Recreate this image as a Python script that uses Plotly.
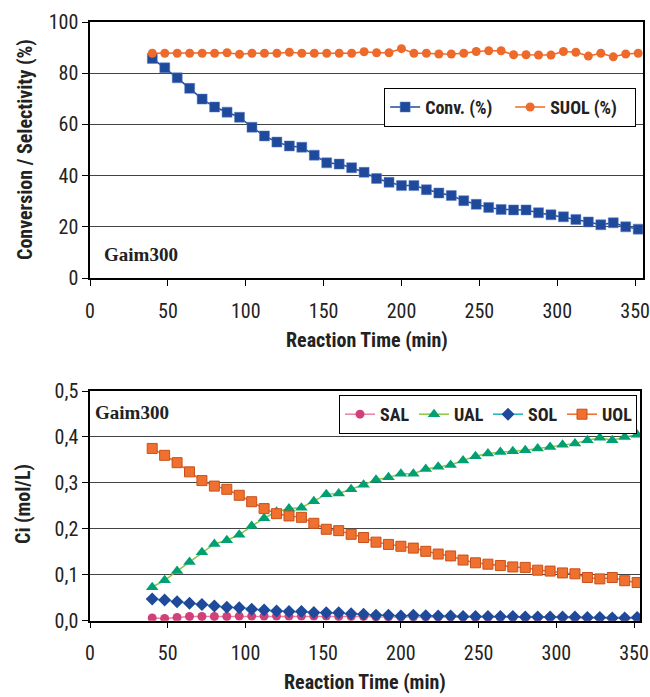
import plotly.graph_objects as go

# ---------------- data ----------------
time_min = [40, 48, 56, 64, 72, 80, 88, 96, 104, 112, 120, 128, 136, 144, 152, 160,
            168, 176, 184, 192, 200, 208, 216, 224, 232, 240, 248, 256, 264, 272,
            280, 288, 296, 304, 312, 320, 328, 336, 344, 352]

conv = [85.8, 82.1, 78.2, 74.1, 69.9, 66.8, 64.8, 62.8, 58.9, 55.5, 53.1, 51.6, 51.1,
        48.0, 45.0, 44.5, 43.1, 41.3, 38.9, 37.4, 36.1, 36.1, 34.5, 33.2, 32.2, 30.2,
        28.8, 27.6, 26.8, 26.6, 26.6, 25.5, 24.7, 23.9, 22.9, 21.9, 20.8, 21.6, 20.0, 19.1]

suol = [87.8, 87.8, 87.8, 87.8, 87.8, 87.8, 88.0, 87.4, 87.8, 87.8, 87.8, 88.2, 87.8,
        87.8, 87.8, 87.8, 87.8, 88.4, 88.0, 88.0, 89.6, 87.8, 87.8, 87.5, 87.5, 87.8,
        88.5, 88.8, 88.8, 87.2, 87.2, 87.1, 87.1, 88.5, 88.2, 86.7, 87.8, 86.4, 87.5, 87.8]

uol = [0.375, 0.360, 0.344, 0.324, 0.305, 0.293, 0.286, 0.273, 0.259, 0.244, 0.233,
       0.228, 0.225, 0.212, 0.199, 0.196, 0.188, 0.181, 0.171, 0.166, 0.162, 0.158,
       0.151, 0.145, 0.141, 0.132, 0.126, 0.123, 0.120, 0.117, 0.116, 0.110, 0.108,
       0.104, 0.102, 0.094, 0.091, 0.094, 0.087, 0.083]

ual = [0.073, 0.088, 0.108, 0.128, 0.149, 0.167, 0.175, 0.187, 0.206, 0.223, 0.237,
       0.244, 0.246, 0.260, 0.275, 0.277, 0.286, 0.296, 0.307, 0.312, 0.320, 0.320,
       0.330, 0.335, 0.339, 0.349, 0.358, 0.364, 0.367, 0.369, 0.371, 0.375, 0.378,
       0.383, 0.386, 0.393, 0.398, 0.393, 0.400, 0.405]

sol = [0.047, 0.045, 0.041, 0.038, 0.035, 0.032, 0.029, 0.028, 0.025, 0.023, 0.021,
       0.020, 0.020, 0.018, 0.017, 0.017, 0.015, 0.014, 0.012, 0.012, 0.010, 0.012,
       0.011, 0.010, 0.010, 0.009, 0.009, 0.009, 0.009, 0.009, 0.008, 0.008, 0.008,
       0.008, 0.008, 0.007, 0.007, 0.006, 0.006, 0.007]

sal = [0.006, 0.005, 0.007, 0.009, 0.009, 0.009, 0.009, 0.010, 0.010, 0.010, 0.010,
       0.010, 0.010, 0.010, 0.010, 0.009, 0.009, 0.009, 0.008, 0.008, 0.008, 0.008,
       0.008, 0.008, 0.008, 0.008, 0.007, 0.007, 0.007, 0.007, 0.007, 0.007, 0.007,
       0.007, 0.006, 0.006, 0.006, 0.006, 0.006, 0.006]

x_ticks = [0, 50, 100, 150, 200, 250, 300, 350]
y1_ticks = [0, 20, 40, 60, 80, 100]
y2_ticks = [0.0, 0.1, 0.2, 0.3, 0.4, 0.5]
y2_ticktext = ["0,0", "0,1", "0,2", "0,3", "0,4", "0,5"]

# ---------------- styling ----------------
NARROW = "Liberation Sans Narrow, Arial Narrow, Roboto Condensed, DejaVu Sans Condensed, sans-serif"
SERIF = "Liberation Serif, Times New Roman, serif"

fig = go.Figure()

fig.add_trace(go.Scatter(
    x=time_min, y=conv, name="Conv. (%)", mode="lines+markers",
    line=dict(color="#1F4A9C", width=1.5),
    marker=dict(symbol="square", size=10, color="#1F4A9C", line=dict(color="#5B7FC4", width=0.5)),
    xaxis="x", yaxis="y", legend="legend"))
fig.add_trace(go.Scatter(
    x=time_min, y=suol, name="SUOL (%)", mode="lines+markers",
    line=dict(color="#EE6A2A", width=1.5),
    marker=dict(symbol="circle", size=9, color="#EE6A2A"),
    xaxis="x", yaxis="y", legend="legend"))

fig.add_trace(go.Scatter(
    x=time_min, y=sal, name="SAL", mode="lines+markers",
    line=dict(color="#E8849E", width=1.5),
    marker=dict(symbol="circle", size=9, color="#D0407A"),
    xaxis="x2", yaxis="y2", legend="legend2"))
fig.add_trace(go.Scatter(
    x=time_min, y=ual, name="UAL", mode="lines+markers",
    line=dict(color="#8DC63F", width=1.5),
    marker=dict(symbol="triangle-up", size=11, color="#00A072"),
    xaxis="x2", yaxis="y2", legend="legend2"))
fig.add_trace(go.Scatter(
    x=time_min, y=sol, name="SOL", mode="lines+markers",
    line=dict(color="#20B2B2", width=1.5),
    marker=dict(symbol="diamond", size=10, color="#1F4A9C"),
    xaxis="x2", yaxis="y2", legend="legend2"))
fig.add_trace(go.Scatter(
    x=time_min, y=uol, name="UOL", mode="lines+markers",
    line=dict(color="#EE6A2A", width=1.5),
    marker=dict(symbol="square", size=10, color="#F07030", line=dict(color="#C8501A", width=1)),
    xaxis="x2", yaxis="y2", legend="legend2"))

axis_common = dict(
    showline=True, linecolor="black", linewidth=1.5, mirror=True,
    ticks="outside", ticklen=6, tickcolor="black", tickwidth=1,
    tickfont=dict(family=NARROW, size=20, color="#222"),
    zeroline=False, automargin=False,
)

legend_font = dict(family=NARROW, size=18, color="#222", weight="bold")

fig.update_layout(
    width=650, height=697,
    margin=dict(l=0, r=0, t=0, b=0, autoexpand=False),
    paper_bgcolor="white", plot_bgcolor="white",
    showlegend=True,
    xaxis=dict(domain=[0.1385, 0.989], range=[0, 355], tickvals=x_ticks, showgrid=False,
               anchor="y", ticklabelstandoff=8, **axis_common),
    yaxis=dict(domain=[0.6011, 0.9684], range=[0, 100], tickvals=y1_ticks, showgrid=True,
               gridcolor="#444", gridwidth=1, anchor="x", **axis_common),
    xaxis2=dict(domain=[0.1385, 0.985], range=[0, 354], tickvals=x_ticks, showgrid=False,
                anchor="y2", ticklabelstandoff=8, **axis_common),
    yaxis2=dict(domain=[0.1095, 0.439], range=[0, 0.5], tickvals=y2_ticks, ticktext=y2_ticktext,
                showgrid=True, gridcolor="#444", gridwidth=1, anchor="x2", **axis_common),
    legend=dict(x=0.591, y=0.874, xanchor="left", yanchor="top", orientation="h",
                bgcolor="white", bordercolor="black", borderwidth=1,
                entrywidth=80, entrywidthmode="pixels", font=legend_font),
    legend2=dict(x=0.98, y=0.4333, xanchor="right", yanchor="top", orientation="h",
                 bgcolor="white", bordercolor="black", borderwidth=1,
                 entrywidth=29, entrywidthmode="pixels", font=legend_font),
)

title_font = dict(family=NARROW, size=20, color="#222", weight="bold")
annotations = [
    dict(text="Reaction Time (min)", x=(90 + 643) / 2 / 650, y=1 - 340 / 697, xref="paper", yref="paper",
         showarrow=False, font=title_font, xanchor="center", yanchor="middle"),
    dict(text="Reaction Time (min)", x=(90 + 640) / 2 / 650, y=1 - 682 / 697, xref="paper", yref="paper",
         showarrow=False, font=title_font, xanchor="center", yanchor="middle"),
    dict(text="Conversion / Selectivity (%)", x=25 / 650, y=1 - 150 / 697, xref="paper", yref="paper",
         showarrow=False, font=title_font, textangle=-90, xanchor="center", yanchor="middle"),
    dict(text="Ci (mol/L)", x=23 / 650, y=1 - 504 / 697, xref="paper", yref="paper",
         showarrow=False, font=title_font, textangle=-90, xanchor="center", yanchor="middle"),
    dict(text="Gaim300", x=102 / 650, y=1 - 254 / 697, xref="paper", yref="paper",
         showarrow=False, font=dict(family=SERIF, size=19, color="#222", weight="bold"),
         xanchor="left", yanchor="middle"),
    dict(text="Gaim300", x=93 / 650, y=1 - 412 / 697, xref="paper", yref="paper",
         showarrow=False, font=dict(family=SERIF, size=19, color="#222", weight="bold"),
         xanchor="left", yanchor="middle"),
]
fig.update_layout(annotations=annotations)

fig.write_html("out.html")
